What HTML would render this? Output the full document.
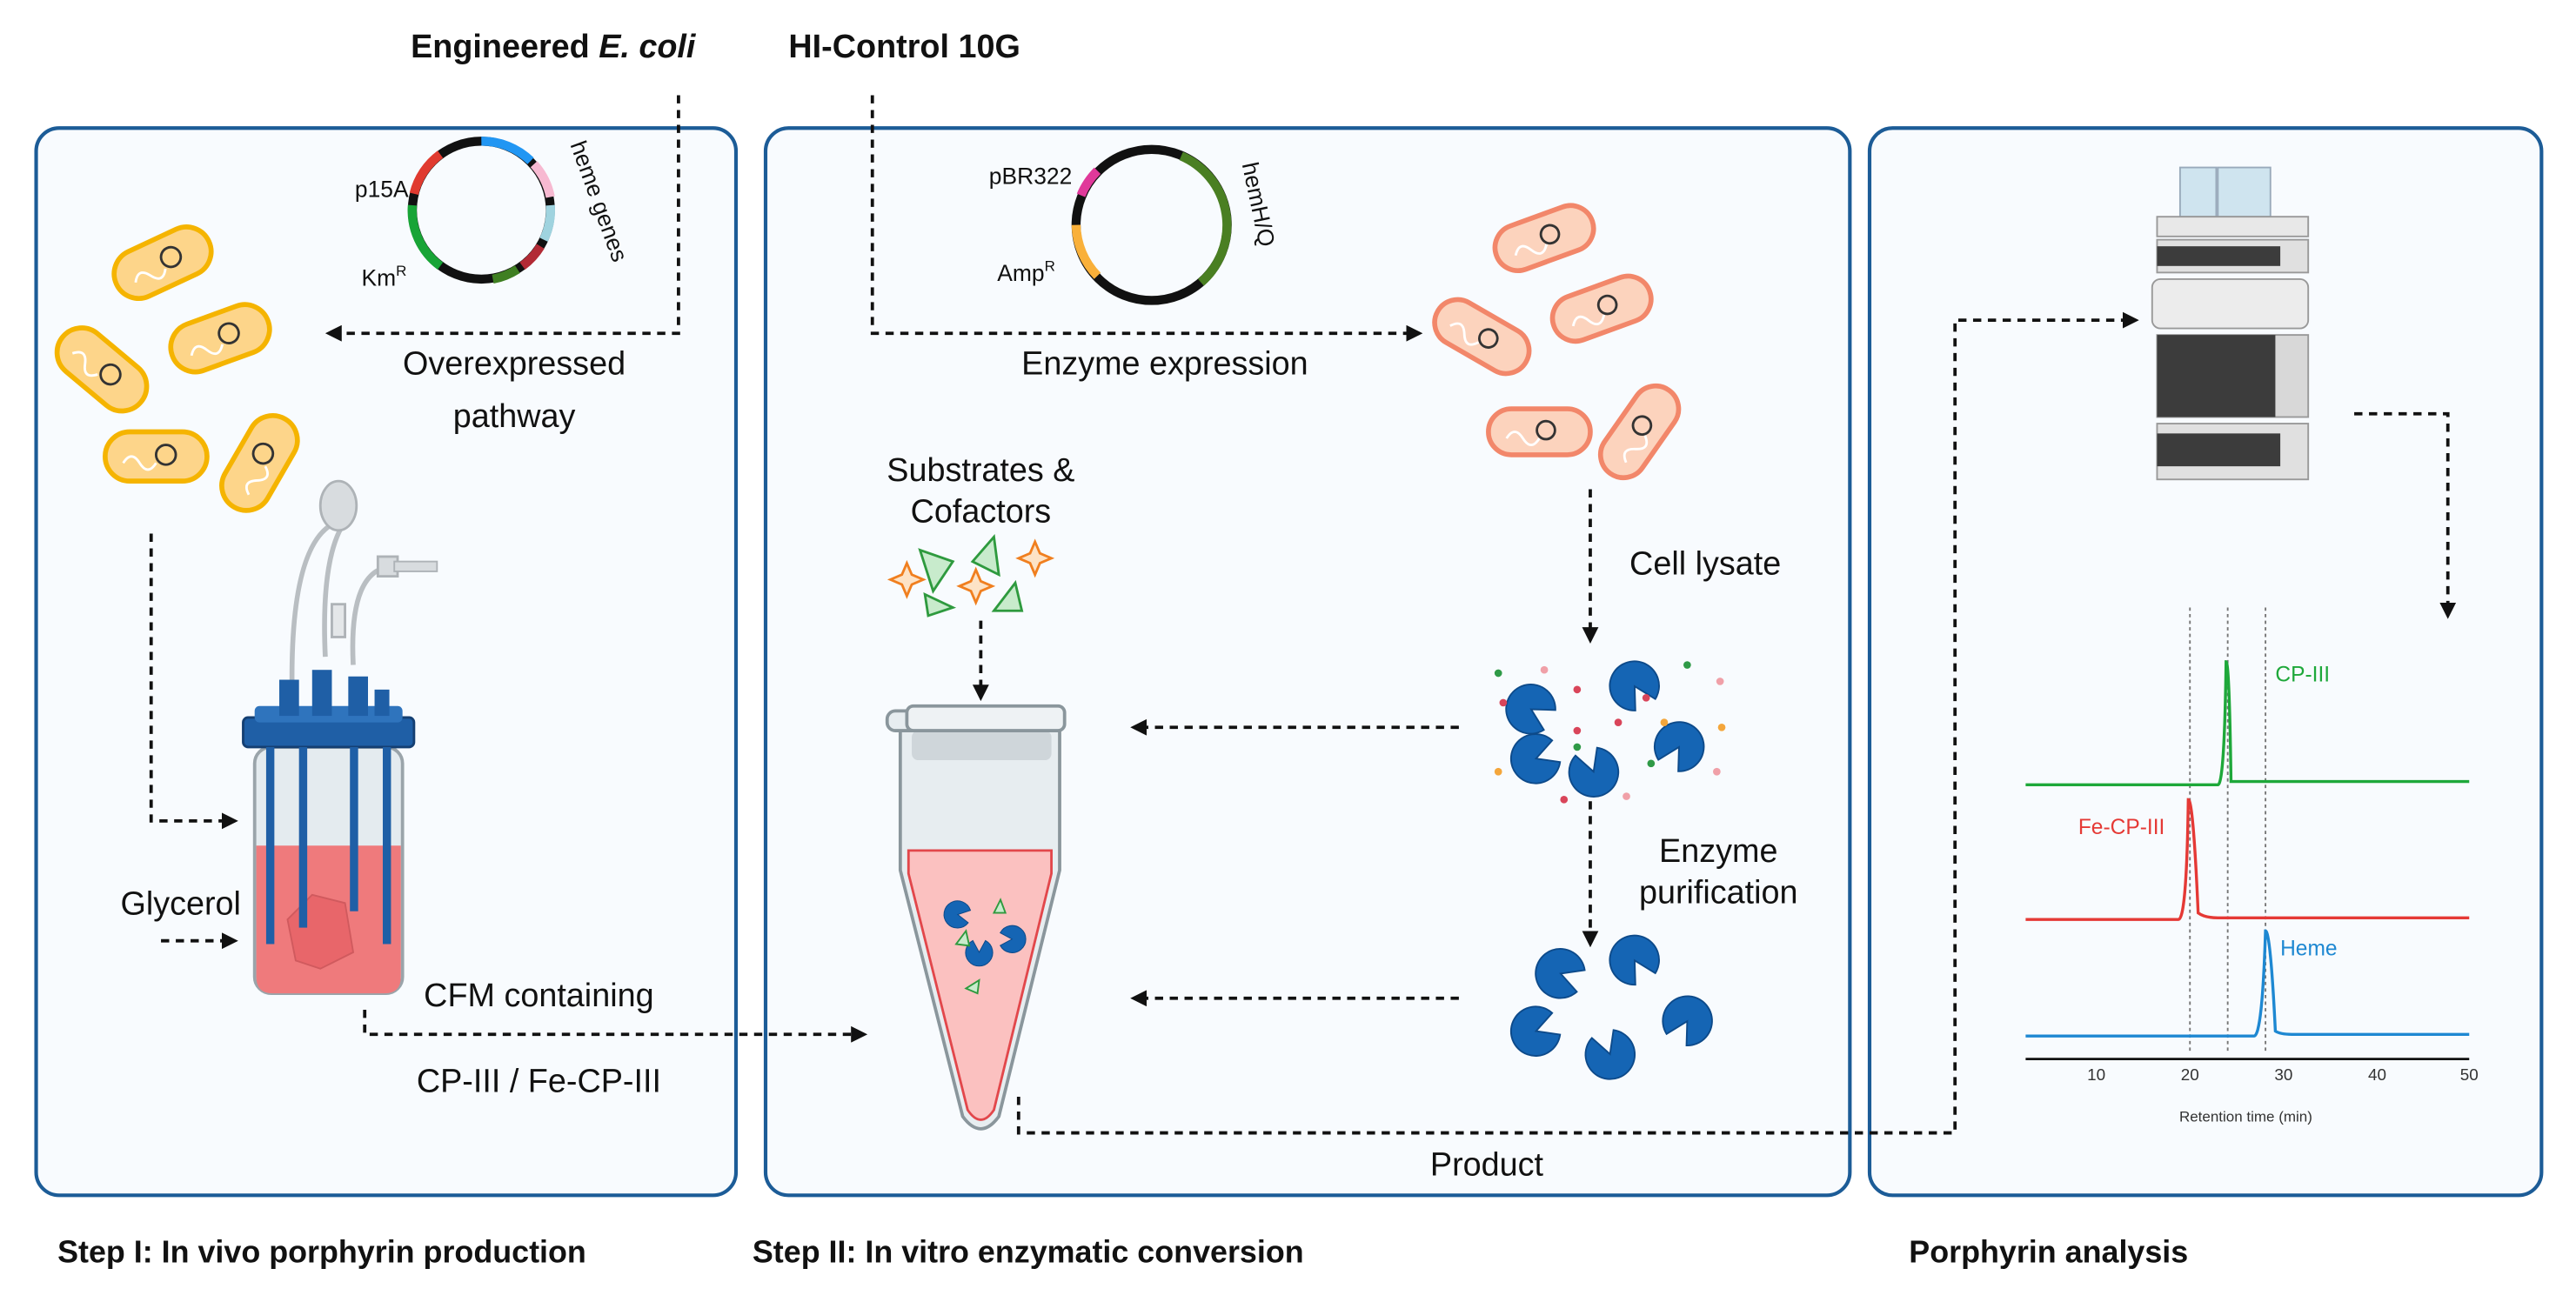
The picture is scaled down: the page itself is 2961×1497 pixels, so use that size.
<!DOCTYPE html>
<html><head><meta charset="utf-8"><style>
html,body{margin:0;padding:0;background:#fff;}
svg{display:block;}
text{font-family:"Liberation Sans",sans-serif;}
</style></head><body>
<svg width="2961" height="1497" viewBox="0 0 1568 793" preserveAspectRatio="none" xmlns="http://www.w3.org/2000/svg">
<defs>
<marker id="ar" markerWidth="10" markerHeight="10" refX="8" refY="5" orient="auto" markerUnits="userSpaceOnUse">
<path d="M0,0 L10,5 L0,10 Z" fill="#111"/></marker>
<g id="bacY"><rect x="-31" y="-15" width="62" height="30" rx="15" fill="#fdd58a" stroke="#f5b400" stroke-width="3"/><path d="M-20,4 q5,-8 10,0 t10,0" fill="none" stroke="#fff" stroke-width="1.5"/><circle cx="6" cy="-1" r="6" fill="none" stroke="#333" stroke-width="1.5"/></g>
<g id="bacR"><rect x="-31" y="-14" width="62" height="28" rx="14" fill="#fcd3bd" stroke="#f2876a" stroke-width="3"/><path d="M-20,4 q5,-8 10,0 t10,0" fill="none" stroke="#fff" stroke-width="1.5"/><circle cx="4" cy="-1" r="5.5" fill="none" stroke="#333" stroke-width="1.5"/></g>
<path id="pac" d="M0,0 L13,-7 A15,15 0 1 0 13,7 Z" fill="#1565b4" stroke="#0d4a8a" stroke-width="1"/>
</defs>
<rect width="1568" height="793" fill="#fff"/>
<rect x="22" y="78" width="426" height="650" rx="14" fill="#f8fbfe" stroke="#1c5c97" stroke-width="2.2"/>
<rect x="466" y="78" width="660" height="650" rx="14" fill="#f8fbfe" stroke="#1c5c97" stroke-width="2.2"/>
<rect x="1138" y="78" width="409" height="650" rx="14" fill="#f8fbfe" stroke="#1c5c97" stroke-width="2.2"/>
<text x="250" y="35" font-size="20" font-weight="bold" fill="#111">Engineered <tspan font-style="italic">E. coli</tspan></text>
<text x="480" y="35" font-size="20" font-weight="bold" fill="#111">HI-Control 10G</text>
<text x="35" y="769" font-size="19" font-weight="bold" fill="#111">Step I: In vivo porphyrin production</text>
<text x="458" y="769" font-size="19" font-weight="bold" fill="#111">Step II: In vitro enzymatic conversion</text>
<text x="1162" y="769" font-size="19" font-weight="bold" fill="#111">Porphyrin analysis</text>
<g fill="none" stroke="#111" stroke-width="2" stroke-dasharray="5,4">
<path d="M413,58 V203 H200" marker-end="url(#ar)"/>
<path d="M92,325 V500 H143" marker-end="url(#ar)"/>
<path d="M98,573 H143" marker-end="url(#ar)"/>
<path d="M222,615 V630 H526" marker-end="url(#ar)"/>
<path d="M531,58 V203 H864" marker-end="url(#ar)"/>
<path d="M597,378 V425" marker-end="url(#ar)"/>
<path d="M968,298 V390" marker-end="url(#ar)"/>
<path d="M888,443 H690" marker-end="url(#ar)"/>
<path d="M968,488 V575" marker-end="url(#ar)"/>
<path d="M888,608 H690" marker-end="url(#ar)"/>
<path d="M620,668 V690 H1190 V195 H1300" marker-end="url(#ar)"/>
<path d="M1433,252 H1490 V375" marker-end="url(#ar)"/>
</g>
<g fill="none" stroke-width="5.5">
<circle cx="293" cy="128" r="42" stroke="#111"/>
<path d="M293,86 A42,42 0 0 1 323,98" stroke="#2196f3"/>
<path d="M325,100 A42,42 0 0 1 335,120" stroke="#f7b9d1"/>
<path d="M335,125 A42,42 0 0 1 331,146" stroke="#9fd3df"/>
<path d="M329,150 A42,42 0 0 1 318,162" stroke="#b22a35"/>
<path d="M315,164 A42,42 0 0 1 300,170" stroke="#3f7f22"/>
<path d="M268,162 A42,42 0 0 1 251,125" stroke="#18a436"/>
<path d="M252,118 A42,42 0 0 1 268,94" stroke="#e03a2f"/>
</g>
<text x="216" y="120" font-size="14" fill="#111">p15A</text>
<text x="220" y="174" font-size="14" fill="#111">Km<tspan font-size="9" dy="-6">R</tspan></text>
<text transform="translate(347,88) rotate(70)" font-size="14" fill="#111">heme genes</text>
<g fill="none" stroke-width="5.5">
<circle cx="701" cy="137" r="46" stroke="#111"/>
<path d="M719,95 A46,46 0 0 1 731,172" stroke="#4a7f22"/>
<path d="M668,168 A46,46 0 0 1 655,137" stroke="#f9b03a"/>
<path d="M658,119 A46,46 0 0 1 668,104" stroke="#e0399a"/>
</g>
<text x="602" y="112" font-size="14" fill="#111">pBR322</text>
<text x="607" y="171" font-size="14" fill="#111">Amp<tspan font-size="9" dy="-6">R</tspan></text>
<text transform="translate(756,100) rotate(78)" font-size="14" fill="#111">hemH/Q</text>
<g font-size="20" fill="#111" text-anchor="middle">
<text x="313" y="228">Overexpressed</text>
<text x="313" y="260">pathway</text>
<text x="709" y="228">Enzyme expression</text>
<text x="597" y="293">Substrates &amp;</text>
<text x="597" y="318">Cofactors</text>
<text x="1038" y="350">Cell lysate</text>
<text x="1046" y="525">Enzyme</text>
<text x="1046" y="550">purification</text>
<text x="110" y="557">Glycerol</text>
<text x="328" y="613">CFM containing</text>
<text x="328" y="665">CP-III / Fe-CP-III</text>
<text x="905" y="716">Product</text>
</g>
<use href="#bacY" transform="translate(99,160) rotate(-25)"/>
<use href="#bacY" transform="translate(134,206) rotate(-20)"/>
<use href="#bacY" transform="translate(62,225) rotate(40)"/>
<use href="#bacY" transform="translate(95,278)"/>
<use href="#bacY" transform="translate(158,282) rotate(-60)"/>
<use href="#bacR" transform="translate(940,145) rotate(-20)"/>
<use href="#bacR" transform="translate(902,205) rotate(30)"/>
<use href="#bacR" transform="translate(975,188) rotate(-20)"/>
<use href="#bacR" transform="translate(937,263)"/>
<use href="#bacR" transform="translate(998,263) rotate(-55)"/>
<g stroke-width="1.5">
<path d="M560,335 L580,342 L568,360 Z" fill="#c8ebcc" stroke="#2e9a3e"/>
<path d="M605,327 L608,350 L592,342 Z" fill="#c8ebcc" stroke="#2e9a3e"/>
<path d="M563,362 L580,370 L565,375 Z" fill="#c8ebcc" stroke="#2e9a3e"/>
<path d="M618,355 L622,372 L605,372 Z" fill="#c8ebcc" stroke="#2e9a3e"/>
<path d="M552,343 l3,7 7,3 -7,3 -3,7 -3,-7 -7,-3 7,-3 Z" fill="#fde3c6" stroke="#f07f1f"/>
<path d="M594,347 l3,7 7,3 -7,3 -3,7 -3,-7 -7,-3 7,-3 Z" fill="#fde3c6" stroke="#f07f1f"/>
<path d="M630,330 l3,7 7,3 -7,3 -3,7 -3,-7 -7,-3 7,-3 Z" fill="#fde3c6" stroke="#f07f1f"/>
</g>
<g>
<path d="M548,445 L645,445 L645,530 L608,680 Q597,695 586,680 L548,530 Z" fill="#e7edf0" stroke="#8a969c" stroke-width="2"/>
<path d="M553,518 L640,518 L640,532 L605,676 Q597,688 589,676 L553,532 Z" fill="#fbc1c0" stroke="#e2474b" stroke-width="1.5"/>
<rect x="555" y="445" width="85" height="18" rx="4" fill="#cfd6da"/>
<rect x="540" y="433" width="20" height="12" rx="5" fill="#e7edf0" stroke="#8a969c" stroke-width="2"/>
<rect x="552" y="430" width="96" height="15" rx="4" fill="#eef2f4" stroke="#8a969c" stroke-width="2"/>
<use href="#pac" transform="translate(583,557) rotate(10) scale(0.55)"/>
<use href="#pac" transform="translate(596,580) rotate(-90) scale(0.55)"/>
<use href="#pac" transform="translate(616,572) rotate(180) scale(0.55)"/>
<path d="M582,575 l6,-8 2,9 Z M605,556 l4,-8 3,8 Z M588,602 l8,-5 -1,8 Z" fill="#c8ebcc" stroke="#2e9a3e" stroke-width="1"/>
</g>
<g>
<use href="#pac" transform="translate(932,432) rotate(30)"/>
<use href="#pac" transform="translate(995,418) rotate(60)"/>
<use href="#pac" transform="translate(935,462) rotate(-20)"/>
<use href="#pac" transform="translate(970,470) rotate(-110)"/>
<use href="#pac" transform="translate(1022,455) rotate(120)"/>
<g fill="#d9455a"><circle cx="915" cy="428" r="2.3"/><circle cx="960" cy="420" r="2.3"/><circle cx="985" cy="440" r="2.3"/><circle cx="1002" cy="425" r="2.3"/><circle cx="952" cy="487" r="2.3"/><circle cx="960" cy="445" r="2.3"/></g>
<g fill="#2f9a47"><circle cx="1027" cy="405" r="2.3"/><circle cx="960" cy="455" r="2.3"/><circle cx="1005" cy="465" r="2.3"/><circle cx="912" cy="410" r="2.3"/></g>
<g fill="#f4a63b"><circle cx="1013" cy="440" r="2.3"/><circle cx="1048" cy="443" r="2.3"/><circle cx="912" cy="470" r="2.3"/></g>
<g fill="#f0a0a8"><circle cx="1047" cy="415" r="2.3"/><circle cx="1045" cy="470" r="2.3"/><circle cx="990" cy="485" r="2.3"/><circle cx="940" cy="408" r="2.3"/></g>
</g>
<use href="#pac" transform="translate(950,593) rotate(20)"/>
<use href="#pac" transform="translate(995,585) rotate(60)"/>
<use href="#pac" transform="translate(935,628) rotate(-20)"/>
<use href="#pac" transform="translate(980,642) rotate(-110)"/>
<use href="#pac" transform="translate(1027,622) rotate(120)"/>
<!-- bioreactor -->
<g>
<path d="M178,430 Q175,330 205,318 M198,400 Q195,335 212,315 M215,405 Q212,345 240,345 L255,345" fill="none" stroke="#b9bec2" stroke-width="3"/>
<ellipse cx="206" cy="308" rx="11" ry="15" fill="#d8dcdf" stroke="#aeb3b7" stroke-width="1.5"/>
<rect x="230" y="339" width="12" height="12" fill="#d8dcdf" stroke="#aeb3b7" stroke-width="1.5"/>
<rect x="240" y="342" width="26" height="6" fill="#d8dcdf" stroke="#aeb3b7" stroke-width="1"/>
<rect x="202" y="368" width="8" height="20" fill="#e4e7e9" stroke="#aeb3b7" stroke-width="1.5"/>
<rect x="155" y="455" width="90" height="150" rx="10" fill="#e4ebef" stroke="#9aa4aa" stroke-width="2"/>
<path d="M156,515 H244 V595 Q244,605 234,605 H166 Q156,605 156,595 Z" fill="#ef7a7c"/>
<path d="M175,560 L190,545 L210,550 L215,580 L195,590 L180,585 Z" fill="#e8666a" stroke="#d05a5e" stroke-width="1"/>
<rect x="148" y="437" width="104" height="18" rx="3" fill="#1f5fa6" stroke="#143f72" stroke-width="1.5"/>
<rect x="155" y="430" width="90" height="10" rx="3" fill="#2f74bd"/>
<rect x="170" y="414" width="12" height="22" fill="#1f5fa6"/><rect x="190" y="408" width="12" height="28" fill="#1f5fa6"/><rect x="212" y="412" width="12" height="24" fill="#1f5fa6"/><rect x="228" y="420" width="9" height="16" fill="#1f5fa6"/>
<g fill="#1f5fa6"><rect x="162" y="455" width="5" height="120"/><rect x="182" y="455" width="5" height="110"/><rect x="213" y="455" width="5" height="100"/><rect x="233" y="455" width="5" height="120"/></g>
</g>
<!-- HPLC -->
<g>
<rect x="1327" y="102" width="22" height="30" fill="#cfe4ef" stroke="#9ab" stroke-width="1"/>
<rect x="1350" y="102" width="32" height="30" fill="#cfe4ef" stroke="#9ab" stroke-width="1"/>
<rect x="1313" y="132" width="92" height="12" fill="#e8e8e8" stroke="#999" stroke-width="1"/>
<rect x="1313" y="146" width="92" height="20" fill="#e0e0e0" stroke="#999" stroke-width="1"/><rect x="1313" y="150" width="75" height="12" fill="#3c3c3c"/>
<rect x="1310" y="170" width="95" height="30" rx="5" fill="#ececec" stroke="#999" stroke-width="1"/>
<rect x="1313" y="204" width="92" height="50" fill="#d8d8d8" stroke="#999" stroke-width="1"/><rect x="1313" y="204" width="72" height="50" fill="#3c3c3c"/>
<rect x="1313" y="258" width="92" height="34" fill="#e0e0e0" stroke="#999" stroke-width="1"/><rect x="1313" y="264" width="75" height="20" fill="#3c3c3c"/>
</g>
<g stroke="#777" stroke-width="1" stroke-dasharray="2,2"><path d="M1333,370 V642 M1356,370 V642 M1379,370 V642"/></g>
<g fill="none" stroke-width="1.8">
<path d="M1233,478 H1350 Q1354,478 1355,403 Q1357,403 1358,476 L1503,476" stroke="#1ea83a"/>
<path d="M1233,560 H1326 Q1331,560 1332,487 Q1335,487 1338,556 Q1342,559 1350,559 L1503,559" stroke="#e53935"/>
<path d="M1233,631 H1372 Q1377,631 1379,567 Q1382,567 1385,628 Q1388,630 1395,630 L1503,630" stroke="#1e88d2"/>
</g>
<line x1="1233" y1="645" x2="1503" y2="645" stroke="#111" stroke-width="1.5"/>
<g font-size="10" fill="#333" text-anchor="middle"><text x="1276" y="658">10</text><text x="1333" y="658">20</text><text x="1390" y="658">30</text><text x="1447" y="658">40</text><text x="1503" y="658">50</text><text x="1367" y="683" font-size="9">Retention time (min)</text></g>
<text x="1385" y="415" font-size="13" fill="#1ea83a">CP-III</text>
<text x="1265" y="508" font-size="13" fill="#e53935">Fe-CP-III</text>
<text x="1388" y="582" font-size="13" fill="#1e88d2">Heme</text>
</svg>
</body></html>
